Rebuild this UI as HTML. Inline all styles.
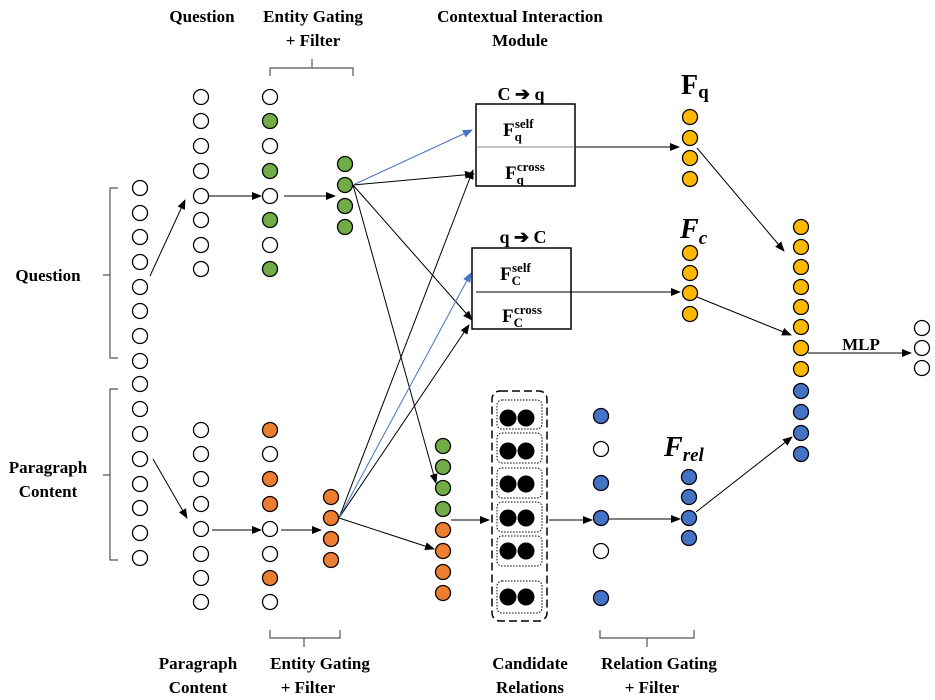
<!DOCTYPE html>
<html><head><meta charset="utf-8"><style>
html,body{margin:0;padding:0;background:#fff}
svg{display:block}
text{font-family:"Liberation Serif",serif;font-weight:bold;fill:#000}
.s{font-family:"Liberation Sans",sans-serif}
</style></head><body>
<svg width="935" height="700" viewBox="0 0 935 700" xmlns="http://www.w3.org/2000/svg">
<defs>
<marker id="a" markerWidth="10" markerHeight="8" refX="9" refY="4" orient="auto" markerUnits="userSpaceOnUse"><path d="M0,0 L10,4 L0,8 z" fill="#000"/></marker>
<marker id="b" markerWidth="10" markerHeight="8" refX="9" refY="4" orient="auto" markerUnits="userSpaceOnUse"><path d="M0,0 L10,4 L0,8 z" fill="#4472C4"/></marker>
</defs>
<g stroke="#000" stroke-width="1.3">
<g fill="#fff">
<circle cx="140" cy="188" r="7.5"/><circle cx="140" cy="213" r="7.5"/><circle cx="140" cy="237" r="7.5"/><circle cx="140" cy="262" r="7.5"/><circle cx="140" cy="287" r="7.5"/><circle cx="140" cy="311" r="7.5"/><circle cx="140" cy="336" r="7.5"/><circle cx="140" cy="361" r="7.5"/>
<circle cx="140" cy="384" r="7.5"/><circle cx="140" cy="409" r="7.5"/><circle cx="140" cy="434" r="7.5"/><circle cx="140" cy="459" r="7.5"/><circle cx="140" cy="484" r="7.5"/><circle cx="140" cy="508" r="7.5"/><circle cx="140" cy="533" r="7.5"/><circle cx="140" cy="558" r="7.5"/>
<circle cx="201" cy="97" r="7.5"/><circle cx="201" cy="121" r="7.5"/><circle cx="201" cy="146" r="7.5"/><circle cx="201" cy="171" r="7.5"/><circle cx="201" cy="196" r="7.5"/><circle cx="201" cy="220" r="7.5"/><circle cx="201" cy="245" r="7.5"/><circle cx="201" cy="269" r="7.5"/>
<circle cx="201" cy="430" r="7.5"/><circle cx="201" cy="454" r="7.5"/><circle cx="201" cy="479" r="7.5"/><circle cx="201" cy="504" r="7.5"/><circle cx="201" cy="529" r="7.5"/><circle cx="201" cy="554" r="7.5"/><circle cx="201" cy="578" r="7.5"/><circle cx="201" cy="602" r="7.5"/>
<circle cx="270" cy="97" r="7.5"/><circle cx="270" cy="146" r="7.5"/><circle cx="270" cy="196" r="7.5"/><circle cx="270" cy="245" r="7.5"/>
<circle cx="270" cy="454" r="7.5"/><circle cx="270" cy="529" r="7.5"/><circle cx="270" cy="554" r="7.5"/><circle cx="270" cy="602" r="7.5"/>
<circle cx="601" cy="449" r="7.5"/><circle cx="601" cy="551" r="7.5"/>
<circle cx="922" cy="328" r="7.5"/><circle cx="922" cy="348" r="7.5"/><circle cx="922" cy="368" r="7.5"/>
</g>
<g fill="#70AD47">
<circle cx="270" cy="121" r="7.5"/><circle cx="270" cy="171" r="7.5"/><circle cx="270" cy="220" r="7.5"/><circle cx="270" cy="269" r="7.5"/>
<circle cx="345" cy="164" r="7.5"/><circle cx="345" cy="185" r="7.5"/><circle cx="345" cy="206" r="7.5"/><circle cx="345" cy="227" r="7.5"/>
<circle cx="443" cy="446" r="7.5"/><circle cx="443" cy="467" r="7.5"/><circle cx="443" cy="488" r="7.5"/><circle cx="443" cy="509" r="7.5"/>
</g>
<g fill="#ED7D31">
<circle cx="270" cy="430" r="7.5"/><circle cx="270" cy="479" r="7.5"/><circle cx="270" cy="504" r="7.5"/><circle cx="270" cy="578" r="7.5"/>
<circle cx="331" cy="497" r="7.5"/><circle cx="331" cy="518" r="7.5"/><circle cx="331" cy="539" r="7.5"/><circle cx="331" cy="560" r="7.5"/>
<circle cx="443" cy="530" r="7.5"/><circle cx="443" cy="551" r="7.5"/><circle cx="443" cy="572" r="7.5"/><circle cx="443" cy="593" r="7.5"/>
</g>
<g fill="#FFB800">
<circle cx="690" cy="117" r="7.5"/><circle cx="690" cy="138" r="7.5"/><circle cx="690" cy="158" r="7.5"/><circle cx="690" cy="179" r="7.5"/>
<circle cx="690" cy="253" r="7.5"/><circle cx="690" cy="273" r="7.5"/><circle cx="690" cy="293" r="7.5"/><circle cx="690" cy="314" r="7.5"/>
<circle cx="801" cy="227" r="7.5"/><circle cx="801" cy="247" r="7.5"/><circle cx="801" cy="267" r="7.5"/><circle cx="801" cy="287" r="7.5"/><circle cx="801" cy="307" r="7.5"/><circle cx="801" cy="327" r="7.5"/><circle cx="801" cy="348" r="7.5"/><circle cx="801" cy="369" r="7.5"/>
</g>
<g fill="#4472C4">
<circle cx="801" cy="391" r="7.5"/><circle cx="801" cy="412" r="7.5"/><circle cx="801" cy="433" r="7.5"/><circle cx="801" cy="454" r="7.5"/>
<circle cx="689" cy="477" r="7.5"/><circle cx="689" cy="497" r="7.5"/><circle cx="689" cy="518" r="7.5"/><circle cx="689" cy="538" r="7.5"/>
<circle cx="601" cy="416" r="7.5"/><circle cx="601" cy="483" r="7.5"/><circle cx="601" cy="518" r="7.5"/><circle cx="601" cy="598" r="7.5"/>
</g>
</g>
<rect x="492" y="391" width="55" height="230" rx="8" fill="none" stroke="#000" stroke-width="1.5" stroke-dasharray="8,4"/>
<g fill="none" stroke="#000" stroke-width="1" stroke-dasharray="1.5,1.5">
<rect x="497" y="400" width="45" height="29" rx="5"/><rect x="497" y="433" width="45" height="30" rx="5"/><rect x="497" y="468" width="45" height="30" rx="5"/><rect x="497" y="502" width="45" height="30" rx="5"/><rect x="497" y="536" width="45" height="30" rx="5"/><rect x="497" y="581" width="45" height="32" rx="5"/>
</g>
<g fill="#000">
<circle cx="508" cy="418" r="8.5"/><circle cx="526" cy="418" r="8.5"/>
<circle cx="508" cy="451" r="8.5"/><circle cx="526" cy="451" r="8.5"/>
<circle cx="508" cy="484" r="8.5"/><circle cx="526" cy="484" r="8.5"/>
<circle cx="508" cy="518" r="8.5"/><circle cx="526" cy="518" r="8.5"/>
<circle cx="508" cy="551" r="8.5"/><circle cx="526" cy="551" r="8.5"/>
<circle cx="508" cy="597" r="8.5"/><circle cx="526" cy="597" r="8.5"/>
</g>
<rect x="476" y="104" width="99" height="82" fill="#fff" stroke="#000" stroke-width="1.5"/>
<line x1="476" y1="147" x2="575" y2="147" stroke="#888" stroke-width="1"/>
<rect x="472" y="248" width="99" height="81" fill="#fff" stroke="#000" stroke-width="1.5"/>
<line x1="476" y1="292" x2="571" y2="292" stroke="#000" stroke-width="1"/>
<text x="503" y="136" font-size="19">F<tspan font-size="13" dy="5">q</tspan><tspan font-size="13" dx="-7" dy="-13">self</tspan></text>
<text x="505" y="179" font-size="19">F<tspan font-size="13" dy="5">q</tspan><tspan font-size="13" dx="-7" dy="-13">cross</tspan></text>
<text x="500" y="280" font-size="19">F<tspan font-size="13" dy="5">C</tspan><tspan font-size="13" dx="-9" dy="-13">self</tspan></text>
<text x="502" y="322" font-size="19">F<tspan font-size="13" dy="5">C</tspan><tspan font-size="13" dx="-9" dy="-13">cross</tspan></text>
<g stroke="#000" stroke-width="1" fill="none" marker-end="url(#a)">
<line x1="150" y1="276" x2="185" y2="200"/>
<line x1="209" y1="196" x2="261" y2="196"/>
<line x1="284" y1="196" x2="335" y2="196"/>
<line x1="153" y1="459" x2="187" y2="518"/>
<line x1="212" y1="530" x2="261" y2="530"/>
<line x1="281" y1="530" x2="321" y2="530"/>
<line x1="353" y1="185" x2="474" y2="174"/>
<line x1="353" y1="185" x2="472" y2="320"/>
<line x1="353" y1="185" x2="436" y2="483"/>
<line x1="339" y1="518" x2="473" y2="170"/>
<line x1="339" y1="518" x2="469" y2="325"/>
<line x1="339" y1="518" x2="434" y2="549"/>
<line x1="575" y1="147" x2="679" y2="147"/>
<line x1="571" y1="292" x2="680" y2="292"/>
<line x1="451" y1="520" x2="489" y2="520"/>
<line x1="549" y1="520" x2="592" y2="520"/>
<line x1="609" y1="519" x2="680" y2="519"/>
<line x1="697" y1="148" x2="784" y2="251"/>
<line x1="697" y1="297" x2="791" y2="335"/>
<line x1="696" y1="512" x2="792" y2="437"/>
<line x1="808" y1="353" x2="911" y2="353"/>
</g>
<g stroke="#4472C4" stroke-width="1" marker-end="url(#b)">
<line x1="353" y1="185" x2="472" y2="130"/>
<line x1="339" y1="518" x2="471" y2="273"/>
</g>
<g stroke="#555" stroke-width="1.2" fill="none">
<path d="M118,188 H110 V358 H118 M110,275 H103"/>
<path d="M118,389 H110 V560 H118 M110,475 H103"/>
<path d="M270,76 V68 H312 V59 M312,68 H353 V76"/>
<path d="M270,630 V638 H304 V647 M304,638 H340 V630"/>
<path d="M600,630 V638 H647 V647 M647,638 H694 V630"/>
</g>
<g font-size="17">
<text x="202" y="22" text-anchor="middle">Question</text>
<text x="313" y="22" text-anchor="middle">Entity  Gating</text>
<text x="313" y="46" text-anchor="middle">+ Filter</text>
<text x="520" y="22" text-anchor="middle">Contextual Interaction</text>
<text x="520" y="46" text-anchor="middle">Module</text>
<text x="48" y="281" text-anchor="middle">Question</text>
<text x="48" y="473" text-anchor="middle">Paragraph</text>
<text x="48" y="497" text-anchor="middle">Content</text>
<text x="198" y="669" text-anchor="middle">Paragraph</text>
<text x="198" y="693" text-anchor="middle">Content</text>
<text x="320" y="669" text-anchor="middle">Entity  Gating</text>
<text x="308" y="693" text-anchor="middle">+ Filter</text>
<text x="530" y="669" text-anchor="middle">Candidate</text>
<text x="530" y="693" text-anchor="middle">Relations</text>
<text x="659" y="669" text-anchor="middle">Relation  Gating</text>
<text x="652" y="693" text-anchor="middle">+ Filter</text>
<text x="861" y="350" text-anchor="middle">MLP</text>
<text x="521" y="100" text-anchor="middle" font-size="18">C ➔ q</text>
<text x="523" y="243" text-anchor="middle" font-size="18">q ➔ C</text>
</g>
<text x="681" y="94" font-size="28">F<tspan font-size="19" dy="4">q</tspan></text>
<text x="680" y="238" font-size="28" font-style="italic">F<tspan font-size="19" dy="6">c</tspan></text>
<text x="664" y="456" font-size="28" font-style="italic">F<tspan font-size="19" dy="5">rel</tspan></text>
</svg>
</body></html>
